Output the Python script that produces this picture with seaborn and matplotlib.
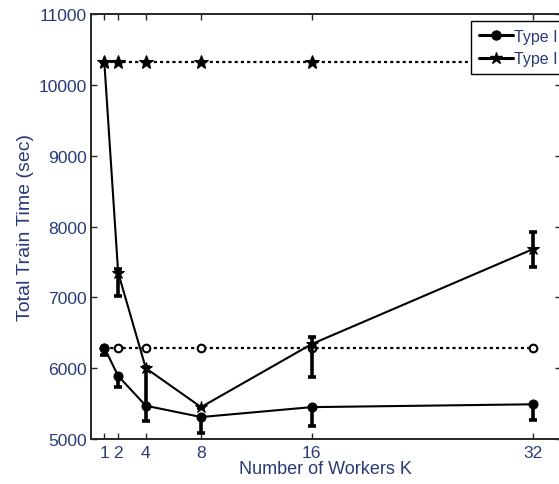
import matplotlib
matplotlib.use("Agg")
import matplotlib.pyplot as plt
import seaborn as sns
import pandas as pd
from matplotlib.lines import Line2D

# ---- data ----
workers = [1, 2, 4, 8, 16, 32]
type1_time = [6290, 5890, 5470, 5310, 5450, 5490]
type1_low = [6180, 5730, 5260, 5090, 5190, 5265]
type1_high = [6290, 5890, 5470, 5310, 5450, 5490]
type2_time = [10320, 7350, 6000, 5450, 6340, 7680]
type2_low = [10320, 7020, 5450, 5440, 5870, 7430]
type2_high = [10320, 7400, 6010, 5450, 6440, 7920]
type1_base = [6290, 6290, 6290, 6290, 6290, 6290]
type2_base = [10320, 10320, 10320, 10320, 10320, 10320]
series_labels = ["Type I", "Type II"]
x_ticks = [1, 2, 4, 8, 16, 32]
y_ticks = [5000, 6000, 7000, 8000, 9000, 10000, 11000]
x_label = "Number of Workers K"
y_label = "Total Train Time (sec)"

sns.set_style("ticks")
plt.rcParams["font.family"] = ["Liberation Sans", "DejaVu Sans"]
txt_color = "#2a3a78"

fig = plt.figure(figsize=(5.59, 4.85), dpi=100)
ax = fig.add_axes([90.5 / 559, 1 - 440 / 485, 470 / 559, 425 / 485])

df = pd.DataFrame({
    "K": workers,
    "t1": type1_time, "t2": type2_time,
    "b1": type1_base, "b2": type2_base,
})

# baselines (dotted)
sns.lineplot(data=df, x="K", y="b2", ax=ax, color="black", lw=1.6,
             linestyle=(0, (1.4, 1.4)), marker="*", markersize=10,
             markerfacecolor="black", markeredgecolor="black", legend=False)
sns.lineplot(data=df, x="K", y="b1", ax=ax, color="black", lw=1.6,
             linestyle=(0, (1.4, 1.4)), marker="o", markersize=5.5,
             markerfacecolor="white", markeredgecolor="black",
             markeredgewidth=1.5, legend=False)

# main series
sns.lineplot(data=df, x="K", y="t1", ax=ax, color="black", lw=1.5,
             marker="o", markersize=6.5, markerfacecolor="black",
             markeredgecolor="black", legend=False)
sns.lineplot(data=df, x="K", y="t2", ax=ax, color="black", lw=1.5,
             marker="*", markersize=9, markerfacecolor="black",
             markeredgecolor="black", legend=False)

# error bars
for vals, lo, hi in [(type1_time, type1_low, type1_high),
                     (type2_time, type2_low, type2_high)]:
    yerr = [[v - l for v, l in zip(vals, lo)], [h - v for v, h in zip(vals, hi)]]
    ax.errorbar(workers, vals, yerr=yerr, fmt="none", ecolor="black",
                elinewidth=2.6, capsize=3.2, capthick=2.6, zorder=4)

ax.set_xlim(0, 34)
ax.set_ylim(5000, 11000)
ax.set_xticks(x_ticks)
ax.set_xticklabels([str(v) for v in x_ticks])
ax.set_yticks(y_ticks)
ax.set_yticklabels([str(v) for v in y_ticks])
ax.tick_params(direction="in", length=4.5, width=1.0, top=True, right=True,
               labelsize=12.6, labelcolor=txt_color, pad=2.5)
ax.tick_params(axis="x", pad=4)
for s in ax.spines.values():
    s.set_linewidth(1.4)
    s.set_visible(True)

ax.set_xlabel(x_label, fontsize=13.0, color=txt_color, labelpad=0.5)
ax.set_ylabel(y_label, fontsize=14.0, color=txt_color, labelpad=3.5)

handles = [
    Line2D([], [], color="black", lw=2.2, marker="o", markersize=6.5),
    Line2D([], [], color="black", lw=2.2, marker="*", markersize=9),
]
leg = ax.legend(handles, series_labels, loc="upper left",
                bbox_to_anchor=(471 / 559, 1 - 22 / 485),
                bbox_transform=fig.transFigure, borderaxespad=0,
                fontsize=11.5, frameon=True, fancybox=False, framealpha=1,
                edgecolor="black", handlelength=2.1, handletextpad=0.1,
                labelspacing=0.45, borderpad=0.5)
leg.set_zorder(10)
leg.get_frame().set_linewidth(1.0)
for t in leg.get_texts():
    t.set_color(txt_color)

fig.savefig("out.png", dpi=100)
